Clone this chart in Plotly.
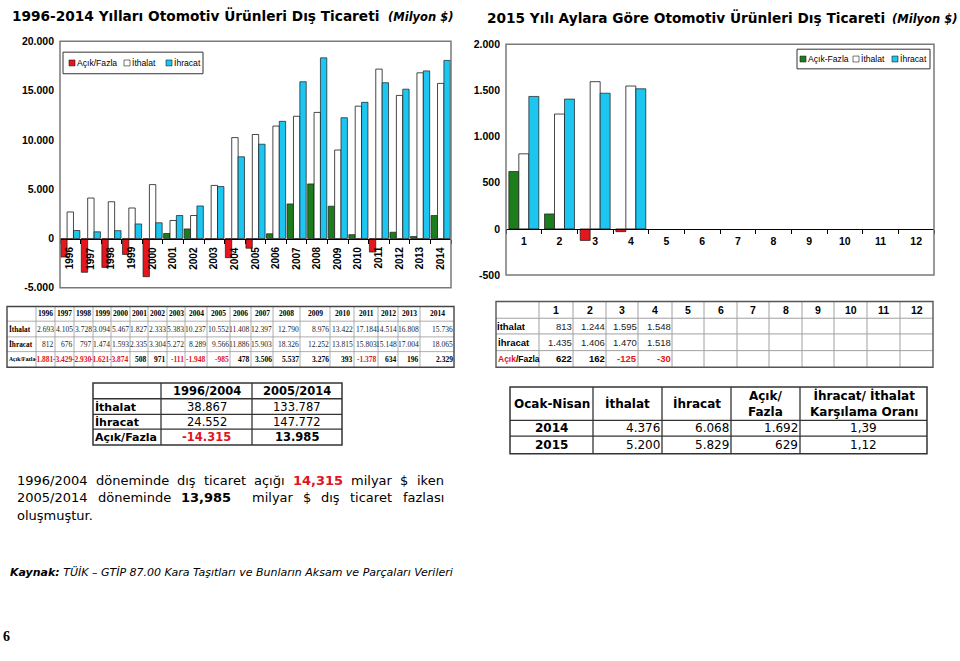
import plotly.graph_objects as go

# ---------------- data ----------------
years = ["1996", "1997", "1998", "1999", "2000", "2001", "2002", "2003", "2004", "2005",
         "2006", "2007", "2008", "2009", "2010", "2011", "2012", "2013", "2014"]
ithalat = [2693, 4105, 3728, 3094, 5467, 1827, 2333, 5383, 10237, 10552,
           11408, 12397, 12790, 8976, 13422, 17184, 14514, 16808, 15736]
ihracat = [812, 676, 797, 1474, 1593, 2335, 3304, 5272, 8289, 9566,
           11886, 15903, 18326, 12252, 13815, 15803, 15148, 17004, 18065]
acik_fazla = [-1881, -3429, -2930, -1621, -3874, 508, 971, -111, -1948, -985,
              478, 3506, 5537, 3276, 393, -1378, 634, 196, 2329]

months = ["1", "2", "3", "4", "5", "6", "7", "8", "9", "10", "11", "12"]
ithalat_2015 = [813, 1244, 1595, 1548]
ihracat_2015 = [1435, 1406, 1470, 1518]
acik_fazla_2015 = [622, 162, -125, -30]

left_ticks = [20000, 15000, 10000, 5000, 0, -5000]
left_tick_labels = ["20.000", "15.000", "10.000", "5.000", "0", "-5.000"]
right_ticks = [2000, 1500, 1000, 500, 0, -500]
right_tick_labels = ["2.000", "1.500", "1.000", "500", "0", "-500"]

periods = ["1996/2004", "2005/2014"]
period_ithalat = [38867, 133787]
period_ihracat = [24552, 147772]
period_acik = [-14315, 13985]

on_years = ["2014", "2015"]
on_ithalat = [4376, 5200]
on_ihracat = [6068, 5829]
on_acik = [1692, 629]
on_oran = ["1,39", "1,12"]

# ---------------- styles ----------------
W, H = 960, 661
RED = "#E5161C"
GREEN = "#1B7D1B"
CYAN = "#1CC6F0"
EDGE = "#1a1a1a"
TXTRED = "#E0141E"
SANS = "DejaVu Sans, Verdana, sans-serif"
ARIAL = "Liberation Sans, Arial, sans-serif"
SERIF = "Liberation Serif, Times New Roman, serif"


def px(x):
    return x / W


def py(y):
    return 1 - y / H


def tr(v):
    s = f"{abs(v):,}".replace(",", ".")
    return ("-" if v < 0 else "") + s


shapes = []
ann = []


def T(x, y, text, size=10, family=SANS, color="black", xa="left", ya="middle", angle=0):
    ann.append(dict(x=px(x), y=py(y), xref="paper", yref="paper", text=text,
                    showarrow=False, xanchor=xa, yanchor=ya, textangle=angle,
                    font=dict(size=size, family=family, color=color),
                    borderpad=0, borderwidth=0))


def L(x0, y0, x1, y1, color, width):
    shapes.append(dict(type="line", xref="paper", yref="paper", x0=px(x0), y0=py(y0),
                       x1=px(x1), y1=py(y1), line=dict(color=color, width=width)))


def R(x0, y0, x1, y1, color, width, fill="rgba(0,0,0,0)"):
    shapes.append(dict(type="rect", xref="paper", yref="paper", x0=px(x0), y0=py(y0),
                       x1=px(x1), y1=py(y1), line=dict(color=color, width=width),
                       fillcolor=fill))


def grid(xs, ys, inner, iw, outer, ow):
    for x in xs[1:-1]:
        L(x, ys[0], x, ys[-1], inner, iw)
    for y in ys[1:-1]:
        L(xs[0], y, xs[-1], y, inner, iw)
    R(xs[0], ys[0], xs[-1], ys[-1], outer, ow)


fig = go.Figure()

# ---------------- left chart ----------------
bw1 = 0.31
fig.add_trace(go.Bar(x=years, y=acik_fazla, width=bw1, offset=-1.5 * bw1, xaxis="x", yaxis="y",
                     marker=dict(color=[GREEN if v >= 0 else RED for v in acik_fazla],
                                 line=dict(color=EDGE, width=0.7)), name="Açık/Fazla"))
fig.add_trace(go.Bar(x=years, y=ithalat, width=bw1, offset=-0.5 * bw1, xaxis="x", yaxis="y",
                     marker=dict(color="white", line=dict(color=EDGE, width=0.8)), name="İthalat"))
fig.add_trace(go.Bar(x=years, y=ihracat, width=bw1, offset=0.5 * bw1, xaxis="x", yaxis="y",
                     marker=dict(color=CYAN, line=dict(color=EDGE, width=0.7)), name="İhracat"))

# ---------------- right chart ----------------
bw2 = 0.28
fig.add_trace(go.Bar(x=months[:len(acik_fazla_2015)], y=acik_fazla_2015, width=bw2, offset=-1.5 * bw2,
                     xaxis="x2", yaxis="y2",
                     marker=dict(color=[GREEN if v >= 0 else RED for v in acik_fazla_2015],
                                 line=dict(color=EDGE, width=0.7)), name="Açık-Fazla"))
fig.add_trace(go.Bar(x=months[:len(ithalat_2015)], y=ithalat_2015, width=bw2, offset=-0.5 * bw2,
                     xaxis="x2", yaxis="y2",
                     marker=dict(color="white", line=dict(color=EDGE, width=0.8)), name="İthalat"))
fig.add_trace(go.Bar(x=months[:len(ihracat_2015)], y=ihracat_2015, width=bw2, offset=0.5 * bw2,
                     xaxis="x2", yaxis="y2",
                     marker=dict(color=CYAN, line=dict(color=EDGE, width=0.7)), name="İhracat"))

# axis geometry
dom_x1 = [px(60), px(451)]
dom_y1 = [py(287), py(36)]
dom_x2 = [px(506), px(934)]
dom_y2 = [py(274), py(39)]
r1 = [left_ticks[-1], left_ticks[0]]
r2 = [right_ticks[-1], right_ticks[0]]
zero1 = dom_y1[0] + (0 - r1[0]) / (r1[1] - r1[0]) * (dom_y1[1] - dom_y1[0])
zero2 = dom_y2[0] + (0 - r2[0]) / (r2[1] - r2[0]) * (dom_y2[1] - dom_y2[0])

tickfont = dict(family=ARIAL, size=10.5, color="black", weight="bold")

xaxis = dict(domain=dom_x1, type="category", anchor="free", position=zero1,
             range=[-0.5, len(years) - 0.5], showline=True, linecolor="black", linewidth=1,
             ticks="outside", ticklen=4, tickcolor="black", tickson="boundaries",
             showticklabels=False, showgrid=False, zeroline=False, fixedrange=True)
yaxis = dict(domain=dom_y1, anchor="x", range=r1, tickvals=left_ticks, ticktext=left_tick_labels,
             showgrid=False, zeroline=False, showline=False, ticks="", tickfont=tickfont,
             ticklabelstandoff=5, fixedrange=True)
xaxis2 = dict(domain=dom_x2, type="category", anchor="free", position=zero2,
              categoryorder="array", categoryarray=months,
              range=[-0.5, len(months) - 0.5], showline=True, linecolor="black", linewidth=1,
              ticks="outside", ticklen=4, tickcolor="black", tickson="boundaries",
              tickangle=0, tickfont=dict(family=ARIAL, size=10.5, color="black", weight="bold"),
              ticklabelstandoff=3, showgrid=False, zeroline=False, fixedrange=True)
yaxis2 = dict(domain=dom_y2, anchor="x2", range=r2, tickvals=right_ticks, ticktext=right_tick_labels,
              showgrid=False, zeroline=False, showline=False, ticks="", tickfont=tickfont,
              ticklabelstandoff=5, fixedrange=True)

# year labels drawn over the bars, just below the zero line (category index positions)
for i, yv in enumerate(years):
    ann.append(dict(x=i, y=0, xref="x", yref="y", text=f"<b>{yv}</b>", showarrow=False,
                    textangle=-90, xanchor="center", yanchor="top", yshift=-8,
                    font=dict(family=ARIAL, size=10, color="black"), borderpad=0, borderwidth=0))

# plot frames
for xr, yr in (("x domain", "y domain"), ("x2 domain", "y2 domain")):
    shapes.append(dict(type="rect", xref=xr, yref=yr, x0=0, x1=1, y0=0, y1=1,
                       line=dict(color="#7a7a7a", width=1.5)))

# ---------------- titles ----------------
T(12, 10, "<b>1996-2014 Yılları Otomotiv Ürünleri Dış Ticareti</b>", 13.7, SANS)
T(453, 11, "<b><i>(Milyon $)</i></b>", 11.5, SANS, xa="right")
T(487, 12, "<b>2015 Yılı Aylara Göre Otomotiv Ürünleri Dış Ticareti</b>", 13.7, SANS)
T(957, 13, "<b><i>(Milyon $)</i></b>", 11.5, SANS, xa="right")

# ---------------- legends ----------------
R(63, 47, 203, 69, "#333333", 1)
R(69, 55, 75, 61, EDGE, 0.6, RED)
T(77, 58, "Açık/Fazla", 8.6, ARIAL)
R(124, 55, 130, 61, EDGE, 0.6, "white")
T(132, 58, "İthalat", 8.6, ARIAL)
R(166, 55, 172, 61, EDGE, 0.6, CYAN)
T(174, 58, "İhracat", 8.6, ARIAL)

R(797, 44, 930, 64, "#333333", 1)
R(800, 51, 806, 57, EDGE, 0.6, GREEN)
T(808, 54, "Açık-Fazla", 8.6, ARIAL)
R(853, 51, 859, 57, EDGE, 0.6, "white")
T(861, 54, "İthalat", 8.6, ARIAL)
R(892, 51, 898, 57, EDGE, 0.6, CYAN)
T(900, 54, "İhracat", 8.6, ARIAL)

# ---------------- table 1 (yearly) ----------------
T1X = [7, 36, 55, 74, 93, 111, 130, 148, 167, 185, 207, 230, 251, 273, 300, 330, 354, 378, 398, 420, 454]
T1Y = [306, 321, 337, 352, 368]
grid(T1X, T1Y, "#9a9a9a", 0.8, "#444444", 1.4)


def cy(ys, i):
    return (ys[i] + ys[i + 1]) / 2


for i, yv in enumerate(years):
    T((T1X[i + 1] + T1X[i + 2]) / 2, cy(T1Y, 0), f"<b>{yv}</b>", 7.5, SERIF, xa="center")
row_labels1 = ["İthalat", "İhracat", "Açık/Fazla"]
for r, lab in enumerate(row_labels1):
    T(8.5, cy(T1Y, r + 1), f"<b>{lab}</b>", 7.3 if r < 2 else 5.7, SERIF)
for r, series in enumerate([ithalat, ihracat, acik_fazla]):
    for i, v in enumerate(series):
        txt = tr(v)
        col = "#222222"
        if r == 2:
            txt = f"<b>{txt}</b>"
            col = TXTRED if v < 0 else "black"
        T(T1X[i + 2] - 1.5, cy(T1Y, r + 1), txt, 7.5, SERIF, col, xa="right")

# ---------------- table 2 (monthly) ----------------
T2X = [496, 539, 573, 606, 638, 672, 704, 737, 769, 802, 834, 867, 900, 933]
T2Y = [301, 318, 334, 351, 368]
grid(T2X, T2Y, "#a0a0a0", 1, "#555555", 1.4)
for i, m in enumerate(months):
    T((T2X[i + 1] + T2X[i + 2]) / 2, cy(T2Y, 0), f"<b>{m}</b>", 10.5, ARIAL, xa="center")
T(497.5, cy(T2Y, 1), "<b>İthalat</b>", 9.5, ARIAL)
T(497.5, cy(T2Y, 2), "<b>İhracat</b>", 9.5, ARIAL)
T(497.5, cy(T2Y, 3), f"<b><span style='color:{TXTRED}'>Açık</span>/Fazla</b>", 8.5, ARIAL)
for r, series in enumerate([ithalat_2015, ihracat_2015, acik_fazla_2015]):
    for i, v in enumerate(series):
        txt = tr(v)
        col = "#222222"
        if r == 2:
            txt = f"<b>{txt}</b>"
            col = TXTRED if v < 0 else "black"
        T(T2X[i + 2] - 1.5, cy(T2Y, r + 1), txt, 9.5, ARIAL, col, xa="right")

# ---------------- table 3 (periods) ----------------
T3X = [93, 161, 252, 342]
T3Y = [384, 400, 416, 431, 447]
grid(T3X, T3Y, "#333333", 1.3, "#333333", 1.5)
for i, p in enumerate(periods):
    T((T3X[i + 1] + T3X[i + 2]) / 2, cy(T3Y, 0), f"<b>{p}</b>", 11.5, SANS, xa="center")
for r, lab in enumerate(["İthalat", "İhracat", "Açık/Fazla"]):
    T(95, cy(T3Y, r + 1), f"<b>{lab}</b>", 11, SANS)
for r, series in enumerate([period_ithalat, period_ihracat, period_acik]):
    for i, v in enumerate(series):
        txt = tr(v)
        col = "black"
        if r == 2:
            txt = f"<b>{txt}</b>"
            col = TXTRED if v < 0 else "black"
        T((T3X[i + 1] + T3X[i + 2]) / 2, cy(T3Y, r + 1), txt, 11.5, SANS, col, xa="center")

# ---------------- table 4 (Ocak-Nisan) ----------------
T4X = [510, 593, 662, 731, 800, 927]
T4Y = [388, 422, 438, 456]
grid(T4X, T4Y, "#333333", 1.3, "#333333", 1.5)
heads4 = ["Ocak-Nisan", "İthalat", "İhracat", "Açık/<br>Fazla", "İhracat/ İthalat<br>Karşılama Oranı"]
for i, h in enumerate(heads4):
    T((T4X[i] + T4X[i + 1]) / 2, cy(T4Y, 0), f"<b>{h}</b>", 12, SANS, xa="center")
for r, yv in enumerate(on_years):
    yy = cy(T4Y, r + 1)
    T((T4X[0] + T4X[1]) / 2, yy, f"<b>{yv}</b>", 12, SANS, xa="center")
    T(T4X[2] - 2, yy, tr(on_ithalat[r]), 12, SANS, xa="right")
    T(T4X[3] - 2, yy, tr(on_ihracat[r]), 12, SANS, xa="right")
    T(T4X[4] - 2, yy, tr(on_acik[r]), 12, SANS, xa="right")
    T((T4X[4] + T4X[5]) / 2, yy, on_oran[r], 12, SANS, xa="center")

# ---------------- paragraph (justified) ----------------
RW = {" ": .318, "/": .337, ",": .318, ".": .318, "$": .636, "a": .613, "b": .635, "c": .550,
      "d": .635, "e": .615, "f": .352, "g": .635, "ğ": .635, "h": .634, "i": .278, "ı": .278,
      "k": .579, "l": .278, "m": .974, "n": .634, "o": .612, "ö": .612, "r": .411, "s": .521,
      "ş": .521, "t": .392, "u": .634, "ü": .634, "y": .592, "z": .525, "ç": .550}


def wwidth(word, bold, size):
    tot = 0
    for ch in word:
        if ch.isdigit():
            tot += .696 if bold else .636
        elif ch == "," and bold:
            tot += .381
        else:
            tot += RW.get(ch, .6)
    return tot * size


PS = 13
lines = [
    [("1996/2004", 0, None, 1), ("döneminde", 0, None, 1), ("dış", 0, None, 1), ("ticaret", 0, None, 1),
     ("açığı", 0, None, 1), ("14,315", 1, TXTRED, 1), ("milyar", 0, None, 1), ("$", 0, None, 1), ("iken", 0, None, 1)],
    [("2005/2014", 0, None, 1), ("döneminde", 0, None, 1), ("13,985", 1, None, 2), ("milyar", 0, None, 1),
     ("$", 0, None, 1), ("dış", 0, None, 1), ("ticaret", 0, None, 1), ("fazlası", 0, None, 1)],
]
line_y = [483, 501]
x_l, x_r = 17, 444
for ln, yy in zip(lines, line_y):
    widths = [wwidth(w, b, PS) for w, b, c, g in ln]
    units = sum(g for w, b, c, g in ln[:-1])
    gap = (x_r - x_l - sum(widths)) / units
    x = x_l
    for (w, b, c, g), wd in zip(ln, widths):
        t = f"<b>{w}</b>" if b else w
        T(x, yy, t, PS, SANS, c or "black")
        x += wd + gap * g
T(17, 519, "oluşmuştur.", PS, SANS)

# ---------------- source & page number ----------------
T(10, 577, "<b><i>Kaynak:</i></b> <i>TÜİK – GTİP 87.00 Kara Taşıtları ve Bunların Aksam ve Parçaları Verileri</i>",
  11, SANS)
T(3, 642, "<b>6</b>", 14, SERIF)

fig.update_layout(width=W, height=H, autosize=False, margin=dict(l=0, r=0, t=0, b=0),
                  paper_bgcolor="white", plot_bgcolor="white", barmode="overlay",
                  showlegend=False, font=dict(family=SANS, color="black"),
                  xaxis=xaxis, yaxis=yaxis, xaxis2=xaxis2, yaxis2=yaxis2,
                  shapes=shapes, annotations=ann)

fig.write_html("out.html", config={"displayModeBar": False},
               post_script="document.body.style.margin='0';document.body.style.overflow='hidden';")
